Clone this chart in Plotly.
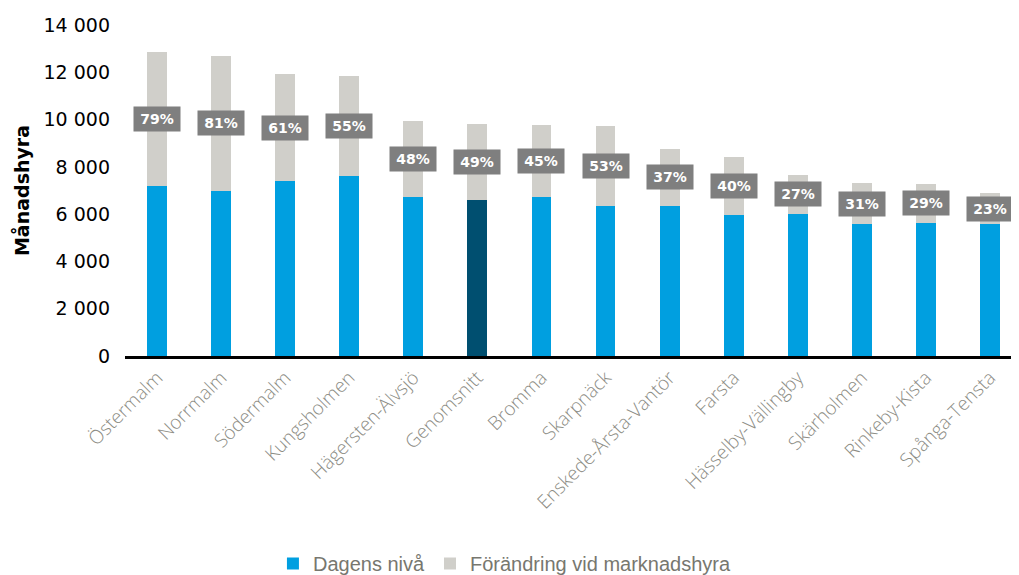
import plotly.graph_objects as go

# Data
districts = ["Östermalm", "Norrmalm", "Södermalm", "Kungsholmen", "Hägersten-Älvsjö",
             "Genomsnitt", "Bromma", "Skarpnäck", "Enskede-Årsta-Vantör", "Farsta",
             "Hässelby-Vällingby", "Skärholmen", "Rinkeby-Kista", "Spånga-Tensta"]
dagens_niva = [7175, 6980, 7400, 7610, 6720, 6600, 6720, 6340, 6360, 5980, 6020, 5580, 5640, 5580]
marknadshyra = [12840, 12700, 11920, 11850, 9940, 9810, 9780, 9720, 8750, 8430, 7670, 7310, 7270, 6890]
pct_change = [79, 81, 61, 55, 48, 49, 45, 53, 37, 40, 27, 31, 29, 23]

BLUE = "#009fe0"
DARK = "#004f70"
GRAY = "#d0cfca"

change = [m - b for m, b in zip(marknadshyra, dagens_niva)]
base_colors = [DARK if d == "Genomsnitt" else BLUE for d in districts]

fig = go.Figure()
fig.add_trace(go.Bar(
    x=districts, y=dagens_niva, name="Dagens nivå",
    marker=dict(color=base_colors, line=dict(width=0)),
))
fig.add_trace(go.Bar(
    x=districts, y=change, name="Förändring vid marknadshyra",
    marker=dict(color=GRAY, line=dict(width=0)),
))

# percentage boxes centred on the grey segment
for d, b, c, p in zip(districts, dagens_niva, change, pct_change):
    fig.add_annotation(
        x=d, y=b + c / 2, text=f"<b>{p}%</b>", showarrow=False,
        bgcolor="#7f7f7f", width=44, height=22, borderpad=1,
        font=dict(color="white", size=14, family="DejaVu Sans"),
    )

# note: the page body adds an 8px offset, margins are reduced accordingly
fig.update_layout(
    barmode="stack",
    bargap=0.69,
    width=1019, height=575,
    margin=dict(l=117, r=5, t=17, b=227),
    paper_bgcolor="white",
    plot_bgcolor="white",
    separators=", ",
    font=dict(family="DejaVu Sans", color="black"),
    showlegend=True,
    legend=dict(
        orientation="h", xref="container", yref="container",
        x=0.26, xanchor="left", y=0.0, yanchor="bottom",
        font=dict(size=20, color="#77776f", family="Liberation Sans"),
        itemwidth=30, traceorder="normal",
    ),
    xaxis=dict(
        tickangle=-45, showline=True, linecolor="black", linewidth=3,
        tickfont=dict(size=19, color="#8c8c84", family="Open Sans", weight=300),
        ticks="", range=[-0.5, 13.5], automargin=False,
    ),
    yaxis=dict(
        range=[0, 14000], dtick=2000, tickformat=",d",
        showgrid=False, zeroline=False, showline=False,
        tickfont=dict(size=19, color="black"), ticklabelstandoff=14,
        title=dict(text="<b>Månadshyra</b>", font=dict(size=19), standoff=8),
        automargin=False,
    ),
)

fig.write_html("out.html")
